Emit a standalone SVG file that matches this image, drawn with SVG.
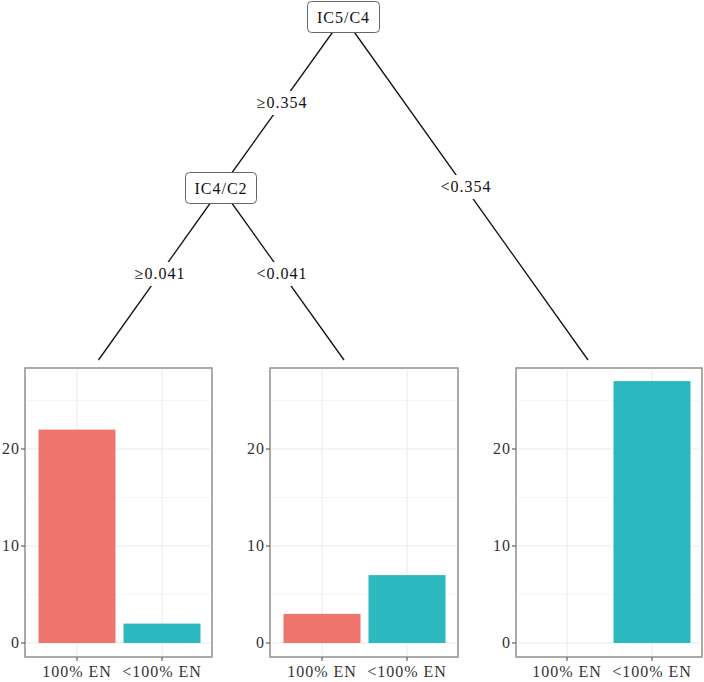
<svg xmlns="http://www.w3.org/2000/svg" width="704" height="682" viewBox="0 0 704 682">
<style>
text{font-family:"Liberation Serif","Times New Roman",serif;font-size:16px;letter-spacing:1px;fill:#111}
.ax{fill:#333}
.ln{stroke:#111;stroke-width:1.3;fill:none}
.nb{fill:#fff;stroke:#666;stroke-width:1}
.pb{fill:#fff;stroke:#9a9a9a;stroke-width:1.2}
.gmaj{stroke:#ebebeb;stroke-width:1.1}
.gmin{stroke:#f2f2f2;stroke-width:0.6}
.tk{stroke:#444;stroke-width:1}
.r{fill:#EE756C}
.t{fill:#2BB8BF}
.c{text-anchor:middle}
.e{text-anchor:end}
</style>
<rect width="704" height="682" fill="#fff"/>
<g id="connectors">
<line class="ln" x1="343.5" y1="17" x2="221" y2="188"/>
<line class="ln" x1="343.5" y1="17" x2="588" y2="360"/>
<line class="ln" x1="221" y1="188" x2="98.5" y2="360"/>
<line class="ln" x1="221" y1="188" x2="344" y2="360"/>
<g id="edge-labels">
<rect x="253" y="91" width="58" height="24" fill="#fff"/>
<text class="c" x="282" y="108">≥0.354</text>
<rect x="437" y="175" width="58" height="24" fill="#fff"/>
<text class="c" x="466" y="192">&lt;0.354</text>
<rect x="131" y="262" width="58" height="24" fill="#fff"/>
<text class="c" x="160" y="279">≥0.041</text>
<rect x="253" y="262" width="58" height="24" fill="#fff"/>
<text class="c" x="282" y="279">&lt;0.041</text>
</g>
</g>
<g id="node-IC5C4">
<rect class="nb" x="307.5" y="1.5" width="72" height="31" rx="4"/>
<text class="c" x="343.5" y="23">IC5/C4</text>
</g>
<g id="node-IC4C2">
<rect class="nb" x="185.5" y="172.5" width="71" height="31" rx="4"/>
<text class="c" x="221" y="194">IC4/C2</text>
</g>
<g id="leaf1">
<rect class="pb" x="25" y="368" width="187" height="289"/>
<g>
<line class="gmin" x1="25" x2="212" y1="594.5" y2="594.5"/>
<line class="gmin" x1="25" x2="212" y1="497.5" y2="497.5"/>
<line class="gmin" x1="25" x2="212" y1="400.5" y2="400.5"/>
<line class="gmaj" x1="25" x2="212" y1="643" y2="643"/>
<line class="gmaj" x1="25" x2="212" y1="546" y2="546"/>
<line class="gmaj" x1="25" x2="212" y1="449" y2="449"/>
<line class="gmaj" x1="77" x2="77" y1="368" y2="657"/>
<line class="gmaj" x1="162" x2="162" y1="368" y2="657"/>
</g>
<rect class="r" x="38.5" y="429.6" width="77" height="213.4"/>
<rect class="t" x="123.5" y="623.6" width="77" height="19.4"/>
<rect x="25" y="368" width="187" height="289" fill="none" stroke="#9a9a9a" stroke-width="1.2"/>
<line class="tk" x1="21" x2="25" y1="643" y2="643"/><line class="tk" x1="21" x2="25" y1="546" y2="546"/><line class="tk" x1="21" x2="25" y1="449" y2="449"/>
<text class="e ax" x="20" y="648">0</text><text class="e ax" x="20" y="551">10</text><text class="e ax" x="20" y="454">20</text>
<line class="tk" x1="77" x2="77" y1="657" y2="661"/><line class="tk" x1="162" x2="162" y1="657" y2="661"/>
<text class="c ax" x="77" y="677">100% EN</text><text class="c ax" x="162" y="677">&lt;100% EN</text>
</g>
<g id="leaf2">
<rect class="pb" x="270" y="368" width="188" height="289"/>
<g>
<line class="gmin" x1="270" x2="458" y1="594.5" y2="594.5"/>
<line class="gmin" x1="270" x2="458" y1="497.5" y2="497.5"/>
<line class="gmin" x1="270" x2="458" y1="400.5" y2="400.5"/>
<line class="gmaj" x1="270" x2="458" y1="643" y2="643"/>
<line class="gmaj" x1="270" x2="458" y1="546" y2="546"/>
<line class="gmaj" x1="270" x2="458" y1="449" y2="449"/>
<line class="gmaj" x1="322" x2="322" y1="368" y2="657"/>
<line class="gmaj" x1="407" x2="407" y1="368" y2="657"/>
</g>
<rect class="r" x="283.5" y="613.9" width="77" height="29.1"/>
<rect class="t" x="368.5" y="575.1" width="77" height="67.9"/>
<rect x="270" y="368" width="188" height="289" fill="none" stroke="#9a9a9a" stroke-width="1.2"/>
<line class="tk" x1="266" x2="270" y1="643" y2="643"/><line class="tk" x1="266" x2="270" y1="546" y2="546"/><line class="tk" x1="266" x2="270" y1="449" y2="449"/>
<text class="e ax" x="265" y="648">0</text><text class="e ax" x="265" y="551">10</text><text class="e ax" x="265" y="454">20</text>
<line class="tk" x1="322" x2="322" y1="657" y2="661"/><line class="tk" x1="407" x2="407" y1="657" y2="661"/>
<text class="c ax" x="322" y="677">100% EN</text><text class="c ax" x="407" y="677">&lt;100% EN</text>
</g>
<g id="leaf3">
<rect class="pb" x="516" y="368" width="186" height="289"/>
<g>
<line class="gmin" x1="516" x2="702" y1="594.5" y2="594.5"/>
<line class="gmin" x1="516" x2="702" y1="497.5" y2="497.5"/>
<line class="gmin" x1="516" x2="702" y1="400.5" y2="400.5"/>
<line class="gmaj" x1="516" x2="702" y1="643" y2="643"/>
<line class="gmaj" x1="516" x2="702" y1="546" y2="546"/>
<line class="gmaj" x1="516" x2="702" y1="449" y2="449"/>
<line class="gmaj" x1="567" x2="567" y1="368" y2="657"/>
<line class="gmaj" x1="652" x2="652" y1="368" y2="657"/>
</g>
<rect class="t" x="613.5" y="381.1" width="77" height="261.9"/>
<rect x="516" y="368" width="186" height="289" fill="none" stroke="#9a9a9a" stroke-width="1.2"/>
<line class="tk" x1="512" x2="516" y1="643" y2="643"/><line class="tk" x1="512" x2="516" y1="546" y2="546"/><line class="tk" x1="512" x2="516" y1="449" y2="449"/>
<text class="e ax" x="511" y="648">0</text><text class="e ax" x="511" y="551">10</text><text class="e ax" x="511" y="454">20</text>
<line class="tk" x1="567" x2="567" y1="657" y2="661"/><line class="tk" x1="652" x2="652" y1="657" y2="661"/>
<text class="c ax" x="567" y="677">100% EN</text><text class="c ax" x="652" y="677">&lt;100% EN</text>
</g>
</svg>
